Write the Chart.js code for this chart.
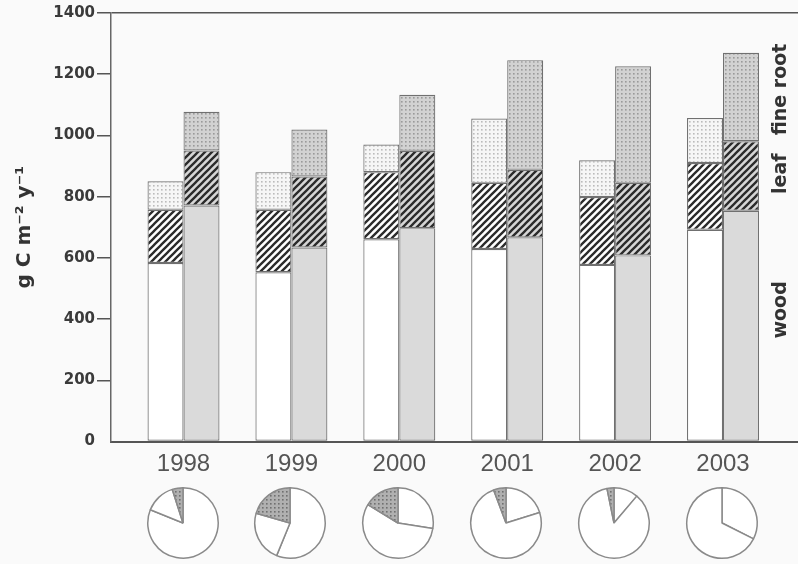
<!DOCTYPE html>
<html>
<head>
<meta charset="utf-8">
<script src="https://cdn.jsdelivr.net/npm/chart.js@4.4.1/dist/chart.umd.min.js"></script>
<style>
  html, body { margin: 0; padding: 0; background: #fafafa; }
  #wrap { position: relative; width: 798px; height: 564px; overflow: hidden; }
  #main { position: absolute; left: 0; top: 0; }
  .pie { position: absolute; }
</style>
</head>
<body>
<div id="wrap"><canvas id="main" width="798" height="564"></canvas></div>
<script>
// Years on the category axis
const years = [1998, 1999, 2000, 2001, 2002, 2003];

// Left bar of each year (white base)
const woodA = [583, 553, 661, 629, 577, 692];
const leafA = [174, 204, 219, 216, 222, 218];
const rootA = [93, 123, 90, 210, 120, 147];

// Right bar of each year (grey base)
const woodB = [771, 634, 697, 667, 608, 754];
const leafB = [180, 232, 253, 221, 237, 227];
const rootB = [126, 153, 183, 358, 381, 289];

// Value-axis ticks
const yTicks = [0, 200, 400, 600, 800, 1000, 1200, 1400];

// Pie shares per year (percent), clockwise from 12 o'clock
const pieShareA = [81.1, 56.2, 27.5, 20.2, 11.2, 32.4];
const pieShareB = [14.0, 23.3, 56.2, 74.1, 85.6, 67.6];
const pieShareC = [4.9, 20.5, 16.3, 5.7, 3.2, 0];

// Component names written down the right edge, and the value each is centred on
const sideLabels = ['wood', 'leaf', 'fine root'];
const sideLabelAt = [430, 875, 1150];

const mainCanvas = document.getElementById('main');
const baseCtx = mainCanvas.getContext('2d');

function tile(size, bg, draw) {
  const c = document.createElement('canvas');
  c.width = size; c.height = size;
  const g = c.getContext('2d');
  g.fillStyle = bg;
  g.fillRect(0, 0, size, size);
  draw(g, size);
  return baseCtx.createPattern(c, 'repeat');
}

function hatch(bg) {
  return tile(7, bg, (g, s) => {
    g.strokeStyle = '#2b2b2b';
    g.lineWidth = 2.3;
    g.beginPath();
    for (let k = -1; k <= 1; k++) {
      g.moveTo(k * s - 1, s + 1);
      g.lineTo(k * s + s + 1, -1);
    }
    g.stroke();
  });
}

function dots(bg, dot) {
  return tile(4, bg, (g) => {
    g.fillStyle = dot;
    g.fillRect(1, 1, 1.6, 1.6);
  });
}

const fillWoodA = '#ffffff';
const fillWoodB = '#dadada';
const fillLeafA = hatch('#ffffff');
const fillLeafB = hatch('#d6d6d6');
const fillRootA = dots('#f6f6f6', '#bbbbbb');
const fillRootB = dots('#d2d2d2', '#9a9a9a');
const fillPie = dots('#b0b0b0', '#707070');

function barSet(label, values, stack, fill) {
  return {
    label,
    data: values.map((v, i) => ({ x: years[i], y: v })),
    stack,
    backgroundColor: fill,
    borderColor: '#707070',
    borderWidth: 1.2,
    borderSkipped: false,
    categoryPercentage: 0.667,
    barPercentage: 1.0
  };
}

const sideLabelPlugin = {
  id: 'sideLabels',
  afterDatasetsDraw(chart) {
    const { ctx, chartArea, scales } = chart;
    ctx.save();
    ctx.font = 'bold 19px "DejaVu Sans"';
    ctx.fillStyle = '#333';
    ctx.textAlign = 'center';
    ctx.textBaseline = 'middle';
    sideLabels.forEach((t, i) => {
      ctx.save();
      ctx.translate(chartArea.right - 17, scales.y.getPixelForValue(sideLabelAt[i]));
      ctx.rotate(-Math.PI / 2);
      ctx.fillText(t, 0, 0);
      ctx.restore();
    });
    ctx.restore();
  }
};

const chart = new Chart(mainCanvas, {
  type: 'bar',
  data: {
    datasets: [
      barSet('wood', woodA, 'A', fillWoodA),
      barSet('leaf', leafA, 'A', fillLeafA),
      barSet('fine root', rootA, 'A', fillRootA),
      barSet('wood', woodB, 'B', fillWoodB),
      barSet('leaf', leafB, 'B', fillLeafB),
      barSet('fine root', rootB, 'B', fillRootB)
    ]
  },
  options: {
    responsive: false,
    animation: false,
    devicePixelRatio: 1,
    events: [],
    layout: { padding: { top: 13, right: 0, bottom: 0, left: 0 } },
    plugins: { legend: { display: false }, tooltip: { enabled: false } },
    scales: {
      x: {
        type: 'linear',
        stacked: true,
        offset: false,
        min: years[0] - 0.672,
        max: years[years.length - 1] + 0.695,
        afterBuildTicks: (s) => { s.ticks = years.map(v => ({ value: v })); },
        afterFit: (s) => { s.height = 122.5; },
        grid: { display: false, drawTicks: false },
        border: { display: true, color: '#555', width: 2 },
        ticks: {
          autoSkip: false,
          maxRotation: 0,
          padding: 8,
          color: '#555',
          font: { family: 'Liberation Sans', size: 24 },
          callback: (v) => String(v)
        }
      },
      y: {
        stacked: true,
        min: 0,
        max: 1400,
        afterBuildTicks: (s) => { s.ticks = yTicks.map(v => ({ value: v })); },
        afterFit: (s) => { s.width = 111; },
        grid: {
          color: (c) => (c.tick && c.tick.value === 1400 ? '#555' : 'transparent'),
          lineWidth: 1.5,
          tickColor: (c) => (c.tick && c.tick.value === 0 ? 'transparent' : '#555'),
          tickLength: 14,
          tickWidth: 1.5
        },
        border: { display: true, color: '#666', width: 1.5 },
        ticks: {
          padding: 2,
          color: '#3a3a3a',
          font: { family: 'DejaVu Sans', weight: 'bold', size: 15 },
          callback: (v) => String(v)
        },
        title: {
          display: true,
          text: 'g C m⁻² y⁻¹',
          color: '#333',
          font: { family: 'DejaVu Sans', weight: 'bold', size: 20 },
          padding: { top: 13, bottom: 0 }
        }
      }
    }
  },
  plugins: [sideLabelPlugin]
});

// Composition pies under each year
const wrap = document.getElementById('wrap');
const xScale = chart.scales.x;
years.forEach((yr, i) => {
  const c = document.createElement('canvas');
  c.width = 74; c.height = 74;
  c.className = 'pie';
  c.style.left = Math.round(xScale.getPixelForValue(yr) - 38) + 'px';
  c.style.top = '486px';
  wrap.appendChild(c);
  new Chart(c, {
    type: 'pie',
    data: {
      labels: ['a', 'b', 'c'],
      datasets: [{
        data: [pieShareA[i], pieShareB[i], pieShareC[i]],
        backgroundColor: ['#ffffff', '#ffffff', fillPie],
        borderColor: '#8a8a8a',
        borderWidth: 1.5
      }]
    },
    options: {
      responsive: false,
      animation: false,
      devicePixelRatio: 1,
      events: [],
      layout: { padding: 1 },
      plugins: { legend: { display: false }, tooltip: { enabled: false } }
    }
  });
});
</script>
</body>
</html>
